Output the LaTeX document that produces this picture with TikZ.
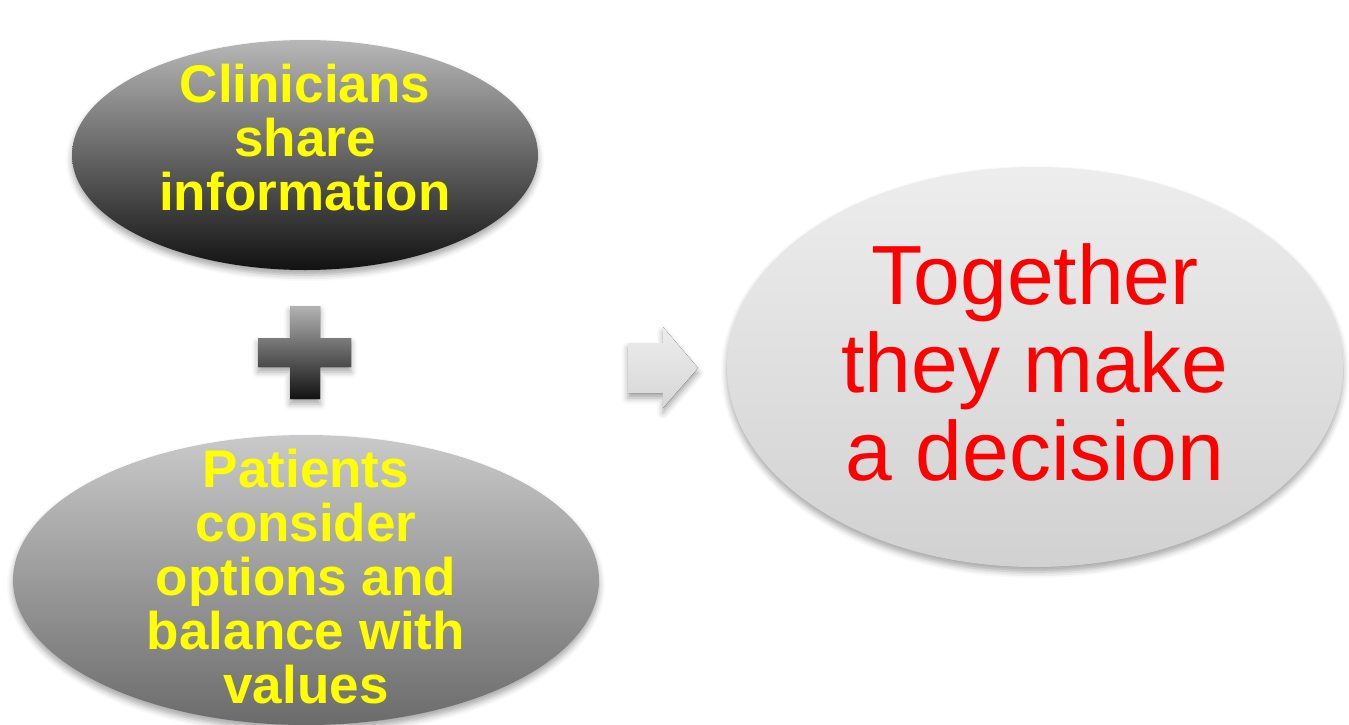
\documentclass[tikz,border=0pt]{standalone}
\usepackage{fontspec}
\setmainfont{Liberation Sans}
\usetikzlibrary{shapes.geometric,shadows.blur}
\definecolor{txtyellow}{HTML}{FFFF00}
\definecolor{txtred}{HTML}{FF0000}
\begin{document}
\begin{tikzpicture}[x=1pt,y=-1pt,
  softshadow/.style={blur shadow={shadow xshift=0pt, shadow yshift=-5pt, shadow blur radius=6pt, shadow opacity=35}},
  oval/.style={ellipse, inner sep=0pt, draw=none, softshadow},
  boldtxt/.style={text=txtyellow, font=\fontsize{53}{54}\selectfont\bfseries, align=center, inner sep=0pt},
  bigtxt/.style={text=txtred, font=\fontsize{84}{88}\selectfont, align=center, inner sep=0pt}
]
\useasboundingbox (0,0) rectangle (1349,725);
% top ellipse
\node[oval, minimum width=466pt, minimum height=230pt, top color=black!28, bottom color=black!93] (clin) at (305,155) {};
\node[boldtxt] (clintxt) at (305,137.6) {Clinicians\\share\\information};
% plus
\fill[softshadow, top color=black!30, bottom color=black!93]
  (290,306) -- (320,306) -- (320,338) -- (351,338) -- (351,367) -- (320,367) -- (320,399)
  -- (290,399) -- (290,367) -- (258,367) -- (258,338) -- (290,338) -- cycle;
% bottom ellipse
\node[oval, minimum width=586pt, minimum height=290pt, top color=black!21, bottom color=black!58] (pat) at (306,580) {};
\node[boldtxt] (pattxt) at (306,576.7) {Patients\\consider\\options and\\balance with\\values};
% arrow
\fill[softshadow, top color=black!7, bottom color=black!16]
  (628,343) -- (663,343) -- (663,327) -- (698,368) -- (663,408) -- (663,393) -- (628,393) -- cycle;
% right ellipse
\node[oval, minimum width=616pt, minimum height=400pt, top color=black!7, bottom color=black!18] (dec) at (1035,367) {};
\node[bigtxt] (dectxt) at (1035,362) {Together\\they make\\a decision};
\end{tikzpicture}
\end{document}
